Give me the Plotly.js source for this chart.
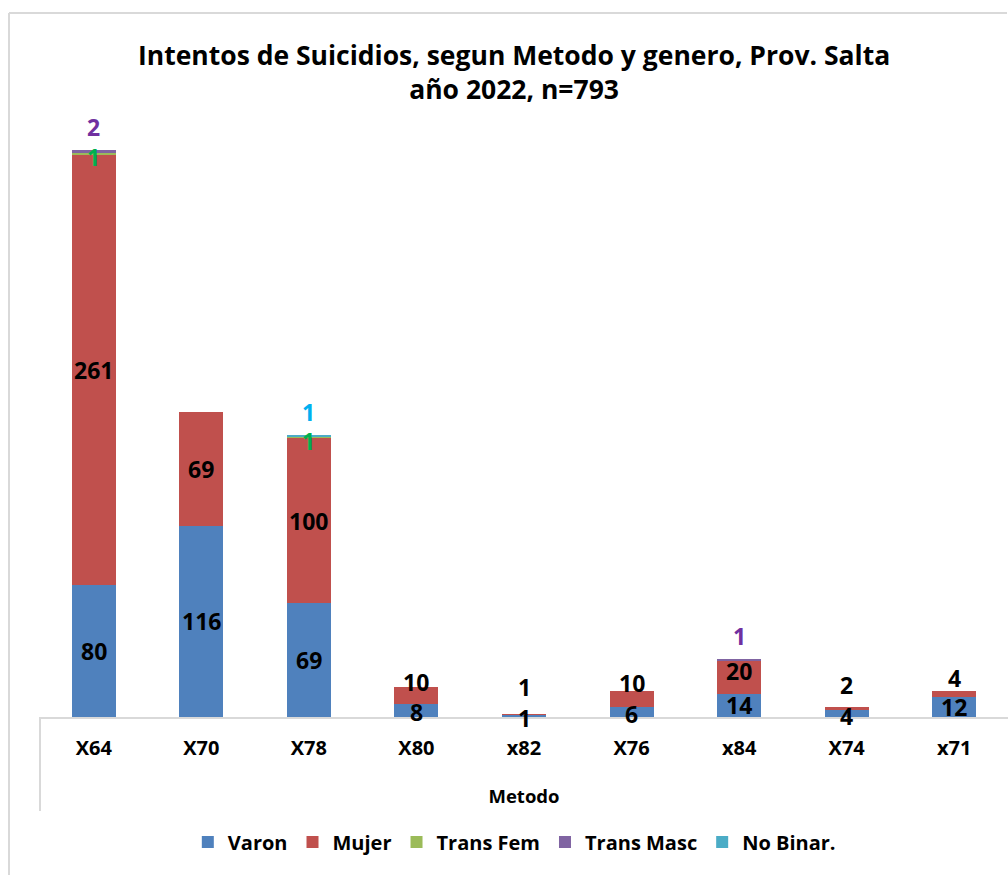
<!DOCTYPE html>
<html>
<head>
<meta charset="utf-8">
<script src="https://cdn.plot.ly/plotly-3.0.1.min.js"></script>
<style>html,body{margin:0;padding:0;background:#fff;}#chart{width:1008px;height:875px;}</style>
</head>
<body>
<div id="chart"></div>
<script>
// ---- data ----
const categories = ['X64','X70','X78','X80','x82','X76','x84','X74','x71'];
const varon      = [80, 116, 69, 8, 1, 6, 14, 4, 12];
const mujer      = [261, 69, 100, 10, 1, 10, 20, 2, 4];
const transFem   = [1, 0, 1, 0, 0, 0, 0, 0, 0];
const transMasc  = [2, 0, 0, 0, 0, 0, 1, 0, 0];
const noBinar    = [0, 0, 1, 0, 0, 0, 0, 0, 0];
const seriesNames = ['Varon','Mujer','Trans Fem','Trans Masc','No Binar.'];

// ---- style ----
const barColors   = ['#4F81BD','#C0504D','#9BBB59','#8064A2','#4BACC6'];
const labelColors = ['#000000','#000000','#00B050','#7030A0','#00B0F0'];
// label nudges (pixels, upward) for the small Mujer segments
const mujerLabelNudge = [0, 0, 0, 14, 28, 16, 6, 24, 16];
const FONT = 'Open Sans, Liberation Sans, sans-serif';

const series = [varon, mujer, transFem, transMasc, noBinar];
const traces = series.map((vals, i) => ({
  type: 'bar',
  name: seriesNames[i],
  x: categories,
  y: vals,
  marker: {color: barColors[i]},
  hoverinfo: 'x+y+name'
}));

const annotations = [];
categories.forEach((c, ci) => {
  let base = 0;
  series.forEach((vals, si) => {
    const v = vals[ci];
    if (v > 0) {
      const mid = base + v / 2;
      const top = base + v;
      let y = mid, yshift = 0;
      if (si === 0 && v < 10) yshift = -2;
      if (si === 1) yshift = mujerLabelNudge[ci];
      if (si === 2) yshift = -3;
      if (si === 3 || si === 4) { y = top; yshift = 23; }
      annotations.push({
        x: c, y: y, xref: 'x', yref: 'y', text: String(v),
        showarrow: false, yanchor: 'middle', yshift: yshift,
        borderpad: 0,
        font: {family: FONT, size: 23, color: labelColors[si], weight: 'bold'}
      });
    }
    base += v;
  });
});

const l = 40, t = 140, b = 158, r = 0;
const W = 1008, H = 875;
const pw = W - l - r, ph = H - t - b;
const px = v => (v - l) / pw;
const py = v => (H - b - v) / ph;

const layout = {
  width: W, height: H,
  margin: {l: l, r: r, t: t, b: b, pad: 0},
  paper_bgcolor: '#fff', plot_bgcolor: '#fff',
  barmode: 'stack',
  bargap: 0.59,
  showlegend: true,
  font: {family: FONT, color: '#000'},
  title: {
    text: 'Intentos de Suicidios, segun Metodo y genero, Prov. Salta<br>año 2022, n=793',
    font: {family: FONT, size: 26.5, color: '#000', weight: 'bold', lineposition: 'none'},
    x: 0.51, xref: 'container', xanchor: 'center',
    y: 1 - 65 / H, yref: 'container', yanchor: 'top'
  },
  xaxis: {
    type: 'category',
    showline: true, linecolor: '#D9D9D9', linewidth: 2,
    ticks: '', showgrid: false, zeroline: false,
    ticklabelstandoff: 12,
    tickfont: {family: FONT, size: 20, color: '#000', weight: 'bold'},
    title: {text: 'Metodo', standoff: 30, font: {family: FONT, size: 18.5, color: '#000', weight: 'bold'}}
  },
  yaxis: {
    range: [0, 350], visible: false, showgrid: false, zeroline: false
  },
  legend: {
    orientation: 'h', traceorder: 'normal',
    x: 0.49, xanchor: 'center', xref: 'paper',
    y: py(842), yanchor: 'middle', yref: 'paper',
    font: {family: FONT, size: 20, color: '#000', weight: 'bold'},
    itemwidth: 30
  },
  annotations: annotations,
  shapes: [
    {type: 'line', xref: 'paper', yref: 'paper', x0: px(9), x1: px(1007), y0: py(13), y1: py(13), line: {color: '#D9D9D9', width: 2}},
    {type: 'line', xref: 'paper', yref: 'paper', x0: px(9), x1: px(9), y0: py(13), y1: py(876), line: {color: '#D9D9D9', width: 2}},
    {type: 'line', xref: 'paper', yref: 'paper', x0: 0, x1: 0, y0: 0, y1: py(811), line: {color: '#D9D9D9', width: 2}}
  ]
};

Plotly.newPlot('chart', traces, layout, {displayModeBar: false, staticPlot: true});
</script>
</body>
</html>
